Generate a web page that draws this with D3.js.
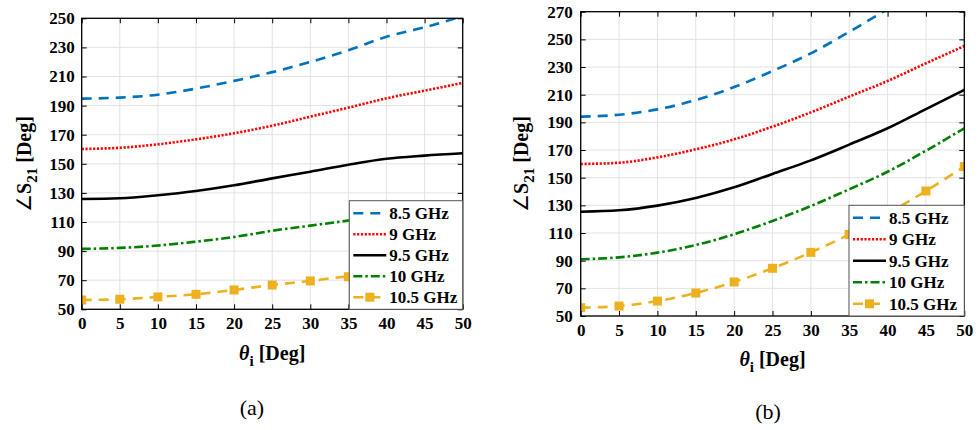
<!DOCTYPE html>
<html>
<head>
<meta charset="utf-8">
<script src="https://cdn.jsdelivr.net/npm/d3@7"></script>
<style>
body { margin: 0; background: #fff; }
</style>
</head>
<body>
<div class="app"></div>
<script>
var angles = [0, 5, 10, 15, 20, 25, 30, 35, 40, 45, 50];
var seriesNames = ["8.5 GHz", "9 GHz", "9.5 GHz", "10 GHz", "10.5 GHz"];

// panel (a)
var a_85 = [194.8, 195.5, 197.5, 201.7, 207, 213, 220, 228, 237.4, 243.8, 251.5];
var a_9 = [160.2, 161, 163.4, 166.8, 171, 176.2, 182.4, 188.6, 195, 200.3, 205.6];
var a_95 = [125.8, 126.3, 128.4, 131.3, 135.2, 140, 144.6, 149.4, 153.5, 155.6, 157.2];
var a_10 = [91.5, 92.2, 93.8, 96.5, 99.7, 104, 107.5, 111, 115, 119, 123.5];
var a_105 = [56.4, 56.9, 58.5, 60.3, 63.3, 66.7, 69.5, 72.4, 73, 73.2, 73.4];

// panel (b)
var b_85 = [194.1, 195.5, 199.4, 206.1, 215.5, 227.1, 239.9, 255.5, 272, 290, 310];
var b_9 = [159.9, 160.8, 164.7, 170.5, 177.7, 186.9, 197.2, 208.6, 219.9, 232.7, 245.2];
var b_95 = [125.4, 126.4, 129.8, 135.3, 143, 152.7, 162.5, 173.9, 185.7, 199.6, 213.4];
var b_10 = [91, 92.4, 95.8, 101.3, 109.1, 118.7, 129.5, 141.6, 154.3, 169.5, 185.7];
var b_105 = [56, 57.2, 60.8, 66.6, 74.6, 84.5, 96, 109, 124, 140.4, 158];

var yTicksA = d3.range(50, 251, 20);
var yTicksB = d3.range(50, 271, 20);

var FONT = "'Liberation Serif', 'Times New Roman', serif";

var styles = [
  {color: "#0072BD", dash: "10,7", marker: false},
  {color: "#FF0000", dash: "2.2,1.6", marker: false},
  {color: "#000000", dash: null, marker: false},
  {color: "#008000", dash: "9,3,2.5,3", marker: false},
  {color: "#EDB120", dash: "10,7", marker: true}
];

var svg = d3.select(".app").append("svg").attr("width", 979).attr("height", 430);

function drawPanel(id, box, yMax, yTicks, series, legendBox, labelPos) {
  var x = d3.scaleLinear().domain([0, 50]).range([box.left, box.left + box.w]);
  var y = d3.scaleLinear().domain([50, yMax]).range([box.top + box.h, box.top]);
  var g = svg.append("g");

  g.append("clipPath").attr("id", "clip" + id).append("rect")
    .attr("x", box.left).attr("y", box.top).attr("width", box.w).attr("height", box.h);

  // grid
  g.append("g").selectAll("line").data(angles).enter().append("line")
    .attr("x1", function(d){ return x(d); }).attr("x2", function(d){ return x(d); })
    .attr("y1", box.top).attr("y2", box.top + box.h)
    .attr("stroke", "#e3e3e3").attr("stroke-width", 1);
  g.append("g").selectAll("line").data(yTicks).enter().append("line")
    .attr("y1", function(d){ return y(d); }).attr("y2", function(d){ return y(d); })
    .attr("x1", box.left).attr("x2", box.left + box.w)
    .attr("stroke", "#e3e3e3").attr("stroke-width", 1);

  var line = d3.line()
    .x(function(d, i){ return x(angles[i]); })
    .y(function(d){ return y(d); })
    .curve(d3.curveMonotoneX);

  var plot = g.append("g").attr("clip-path", "url(#clip" + id + ")");
  series.forEach(function(s, k){
    var st = styles[k];
    plot.append("path").datum(s).attr("d", line)
      .attr("fill", "none").attr("stroke", st.color).attr("stroke-width", 2.6)
      .attr("stroke-dasharray", st.dash);
    if (st.marker) {
      plot.selectAll("rect.m" + k).data(s).enter().append("rect")
        .attr("x", function(d, i){ return x(angles[i]) - 4.5; })
        .attr("y", function(d){ return y(d) - 4.5; })
        .attr("width", 9).attr("height", 9).attr("fill", st.color);
    }
  });

  // axes with inward ticks on all four sides
  var fmt = d3.format("d");
  var ax = function(a){
    a.attr("font-family", null).attr("font-size", null);
    a.selectAll(".domain").remove();
    a.selectAll("line").attr("stroke", "#000").attr("stroke-width", 1);
    a.selectAll("text").style("font-family", FONT).style("font-size", "17px")
      .style("font-weight", "bold").attr("fill", "#000");
  };
  g.append("g").attr("transform", "translate(0," + (box.top + box.h) + ")")
    .call(d3.axisBottom(x).tickValues(angles).tickFormat(fmt).tickSizeInner(-5).tickSizeOuter(0).tickPadding(labelPos.xPad))
    .call(ax);
  g.append("g").attr("transform", "translate(0," + box.top + ")")
    .call(d3.axisTop(x).tickValues(angles).tickFormat("").tickSizeInner(-5).tickSizeOuter(0))
    .call(ax);
  g.append("g").attr("transform", "translate(" + box.left + ",0)")
    .call(d3.axisLeft(y).tickValues(yTicks).tickFormat(fmt).tickSizeInner(-5).tickSizeOuter(0).tickPadding(labelPos.yPad))
    .call(ax);
  g.append("g").attr("transform", "translate(" + (box.left + box.w) + ",0)")
    .call(d3.axisRight(y).tickValues(yTicks).tickFormat("").tickSizeInner(-5).tickSizeOuter(0))
    .call(ax);

  g.append("rect").attr("x", box.left).attr("y", box.top).attr("width", box.w).attr("height", box.h)
    .attr("fill", "none").attr("stroke", "#000").attr("stroke-width", 1.3);

  // legend
  var lg = g.append("g");
  lg.append("rect").attr("x", legendBox.left).attr("y", legendBox.top)
    .attr("width", box.left + box.w - legendBox.left).attr("height", box.top + box.h - legendBox.top)
    .attr("fill", "#fff").attr("stroke", "#555").attr("stroke-width", 1);
  seriesNames.forEach(function(name, k){
    var st = styles[k];
    var yy = legendBox.top + 12.5 + k * legendBox.step;
    var x0 = legendBox.left + 4, x1 = legendBox.left + 37;
    lg.append("line").attr("x1", x0).attr("x2", x1).attr("y1", yy).attr("y2", yy)
      .attr("stroke", st.color).attr("stroke-width", 2.6).attr("stroke-dasharray", st.dash);
    if (st.marker) {
      lg.append("rect").attr("x", (x0 + x1) / 2 - 4.5).attr("y", yy - 4.5)
        .attr("width", 9).attr("height", 9).attr("fill", st.color);
    }
    lg.append("text").attr("x", legendBox.left + 40).attr("y", yy + 6)
      .style("font-family", FONT).style("font-size", "17px").style("font-weight", "bold").text(name);
  });

  // axis titles
  var xt = g.append("text").attr("x", box.left + box.w / 2).attr("y", labelPos.xTitleY)
    .attr("text-anchor", "middle")
    .style("font-family", FONT).style("font-size", "20px").style("font-weight", "bold");
  xt.append("tspan").style("font-style", "italic").text("θ");
  xt.append("tspan").style("font-size", "15px").attr("dy", 6).text("i");
  xt.append("tspan").attr("dy", -6).text(" [Deg]");

  var yt = g.append("text")
    .attr("transform", "translate(" + labelPos.yTitleX + "," + labelPos.yTitleY + ") rotate(-90)")
    .attr("text-anchor", "middle")
    .style("font-family", FONT).style("font-size", "20px").style("font-weight", "bold");
  yt.append("tspan").style("font-weight", "normal").text("∠");
  yt.append("tspan").text("S");
  yt.append("tspan").style("font-size", "15px").attr("dy", 6).text("21");
  yt.append("tspan").attr("dy", -6).text(" [Deg]");

  g.append("text").attr("x", labelPos.capX).attr("y", labelPos.capY)
    .attr("text-anchor", "middle")
    .style("font-family", FONT).style("font-size", "22px").text(labelPos.cap);
}

drawPanel("a", {left: 81.7, top: 18.3, w: 381, h: 291}, 250, yTicksA,
  [a_85, a_9, a_95, a_10, a_105],
  {left: 349.3, top: 200.7, step: 21},
  {xPad: 8, yPad: 7, xTitleY: 360, yTitleX: 31, yTitleY: 164, capX: 252, capY: 415, cap: "(a)"});

drawPanel("b", {left: 580.7, top: 11.7, w: 383.6, h: 304.3}, 270, yTicksB,
  [b_85, b_9, b_95, b_10, b_105],
  {left: 849, top: 205.3, step: 21.5},
  {xPad: 8, yPad: 8, xTitleY: 366, yTitleX: 528, yTitleY: 164, capX: 768, capY: 419, cap: "(b)"});
</script>
</body>
</html>
